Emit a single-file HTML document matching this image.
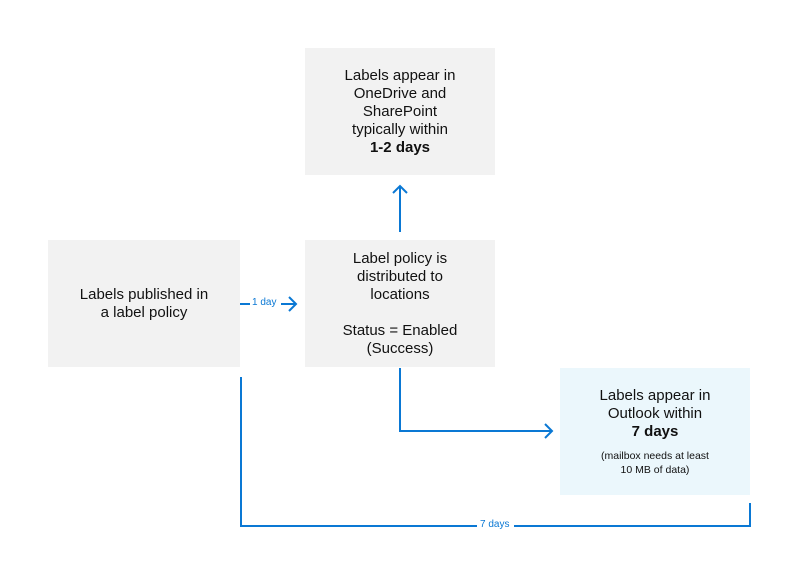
<html><body style="margin:0;width:792px;height:575px;background:#fff;position:relative;font-family:'Liberation Sans','DejaVu Sans',sans-serif;overflow:hidden">
<style>.b{position:absolute;background:#f2f2f2;display:flex;align-items:center;justify-content:center;text-align:center;font-size:15px;line-height:18px;color:#111}</style>
<div class="b" style="left:48px;top:240px;width:192px;height:127px"><div>Labels published in<br>a label policy</div></div>
<div class="b" style="left:305px;top:240px;width:190px;height:127px"><div>Label policy is<br>distributed to<br>locations<br><br>Status = Enabled<br>(Success)</div></div>
<div class="b" style="left:305px;top:48px;width:190px;height:127px"><div>Labels appear in<br>OneDrive and<br>SharePoint<br>typically within<br><b>1-2 days</b></div></div>
<div class="b" style="left:560px;top:368px;width:190px;height:127px;background:#ebf7fc;flex-direction:column"><div>Labels appear in<br>Outlook within<br><b>7 days</b></div><div style="font-size:10.5px;line-height:14px;margin-top:8px">(mailbox needs at least<br>10 MB of data)</div></div>
<svg width="792" height="575" style="position:absolute;left:0;top:0" fill="none" stroke="#0a78d4" stroke-width="2">
<path d="M240 304H250M281 304H296M289 297L296 304L289 311"/>
<path d="M400 232V186M393 193L400 186L407 193"/>
<path d="M400 368V431H552M545 424L552 431L545 438"/>
<path d="M241 377V526H477M514 526H750V503"/>
</svg>
<div style="position:absolute;left:252px;top:297px;font-size:10px;color:#0a78d4">1 day</div>
<div style="position:absolute;left:480px;top:519px;font-size:10px;color:#0a78d4">7 days</div>
</body></html>
